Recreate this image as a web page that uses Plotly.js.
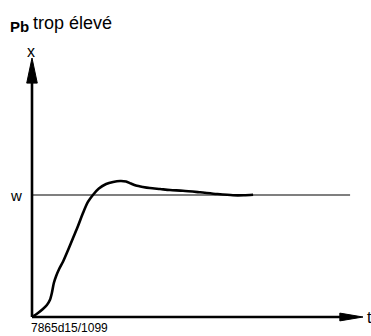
<!DOCTYPE html>
<html><head><meta charset="utf-8">
<script src="https://cdn.plot.ly/plotly-3.0.1.min.js"></script>
<style>html,body{margin:0;padding:0;background:#fff}</style>
</head><body><div id="chart" style="width:371px;height:336px"></div>
<script>
// response curve (t in arbitrary time units, x relative to setpoint w = 1)
const tValues = [0,0.18,0.33,0.45,0.54,0.60,0.66,0.73,0.82,0.94,1.09,1.24,1.39,1.54,1.69,1.84,2.02,2.24,2.45,2.66,2.84,2.99,3.14,3.35,3.56,3.87,4.17,4.56,5.08,5.59,6.07,6.40,6.68];
const xValues = [0,0.033,0.066,0.098,0.139,0.197,0.279,0.336,0.393,0.455,0.549,0.648,0.746,0.852,0.943,1.0,1.053,1.09,1.107,1.115,1.111,1.094,1.078,1.066,1.057,1.049,1.041,1.035,1.022,1.008,0.998,0.998,1.002];
const setpoint = 1;
const setpointEnd = 9.61;
const tMax = 10, xMax = 2.123;

const font = "Liberation Sans, Arial, sans-serif";
const trace = {x:tValues, y:xValues, mode:'lines', line:{color:'#000', width:2.6, shape:'spline', smoothing:0.8}, hoverinfo:'skip'};

const layout = {
  width:371, height:336,
  margin:{l:32, r:8, t:58, b:19},
  paper_bgcolor:'#fff', plot_bgcolor:'#fff',
  showlegend:false,
  xaxis:{range:[0,tMax], visible:false, fixedrange:true},
  yaxis:{range:[0,xMax], visible:false, fixedrange:true},
  shapes:[
    {type:'line', xref:'x', yref:'y', x0:0, x1:setpointEnd, y0:setpoint, y1:setpoint, line:{color:'#000', width:1.2}},
    {type:'line', xref:'paper', yref:'paper', x0:0, x1:0, y0:0, y1:0.92, line:{color:'#000', width:2.6}},
    {type:'line', xref:'paper', yref:'paper', x0:0, x1:0.94, y0:0, y1:0, line:{color:'#000', width:2.6}},
    {type:'path', xref:'paper', yref:'paper', path:'M -0.016 0.903 L 0 1 L 0.016 0.903 Z', fillcolor:'#000', line:{color:'#000', width:1}},
    {type:'path', xref:'paper', yref:'paper', path:'M 0.93 0.015 L 1 0 L 0.93 -0.015 Z', fillcolor:'#000', line:{color:'#000', width:1}}
  ],
  annotations:[
    {xref:'paper', yref:'paper', x:-0.003, y:1.027, text:'x', showarrow:false, xanchor:'center', yanchor:'middle', font:{family:font, size:16, color:'#000'}},
    {xref:'paper', yref:'paper', x:1.006, y:0.0, text:'t', showarrow:false, xanchor:'left', yanchor:'middle', font:{family:font, size:16, color:'#000'}},
    {xref:'paper', yref:'y', x:-0.025, y:setpoint, text:'w', showarrow:false, xanchor:'right', yanchor:'middle', font:{family:font, size:15, color:'#000'}},
    {xref:'paper', yref:'paper', x:-0.072, y:1.12, text:'<b>Pb</b>', showarrow:false, xanchor:'left', yanchor:'middle', font:{family:font, size:15, color:'#000'}},
    {xref:'paper', yref:'paper', x:-0.003, y:1.135, text:'trop élevé', showarrow:false, xanchor:'left', yanchor:'middle', font:{family:font, size:18, color:'#000'}},
    {xref:'paper', yref:'paper', x:-0.01, y:-0.043, text:'7865d15/1099', showarrow:false, xanchor:'left', yanchor:'middle', font:{family:font, size:12, color:'#000'}}
  ]
};
Plotly.newPlot('chart', [trace], layout, {staticPlot:true, displayModeBar:false});
</script></body></html>
